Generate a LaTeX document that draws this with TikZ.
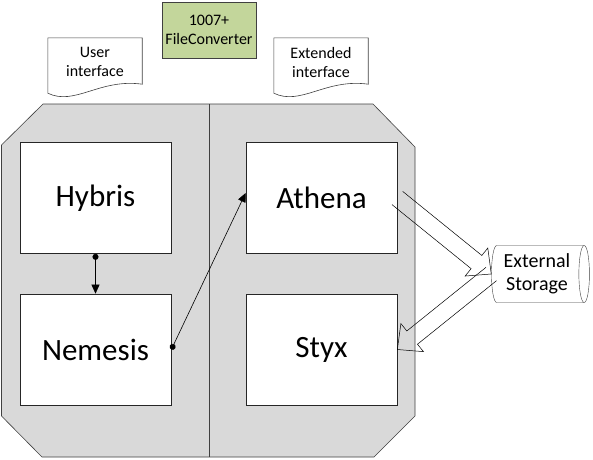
\documentclass[tikz,border=0pt]{standalone}
\usepackage{fontspec}
\setmainfont{Carlito}
\usepackage{tikz}
\usetikzlibrary{shapes,arrows,arrows.meta,positioning,calc}
\definecolor{panelgray}{RGB}{217,217,217}
\definecolor{edgegray}{RGB}{64,64,64}
\definecolor{convgreen}{RGB}{195,214,155}

% wavy bottom outline for a document node
\newcommand{\docoutline}[1]{%
  \draw[edgegray, line width=0.6pt] (#1.north west) -- (#1.north east)
    -- ($(#1.south east)+(0,-2)$)
    .. controls ($(#1.south west)+(52,-8)$) and ($(#1.south west)+(27,20)$) .. ($(#1.south west)+(0,7)$)
    -- cycle;}

% open block arrow between two points
\newcommand{\hollowarrow}[2]{%
  \coordinate (ha-s) at (#1);
  \coordinate (ha-e) at (#2);
  \coordinate (ha-b) at ($(ha-e)!19pt!(ha-s)$);
  \draw[line width=0.5pt] ($(ha-s)!8.5pt!90:(ha-e)$) -- ($(ha-b)!8.5pt!90:(ha-e)$)
    -- ($(ha-b)!18pt!90:(ha-e)$) -- (ha-e) -- ($(ha-b)!18pt!-90:(ha-e)$)
    -- ($(ha-b)!8.5pt!-90:(ha-e)$) -- ($(ha-s)!8.5pt!-90:(ha-e)$);}

\begin{document}
\begin{tikzpicture}[x=1pt, y=-1pt,
    module/.style={rectangle, draw=black!85, fill=white, line width=0.7pt,
                   minimum width=151, minimum height=111, font=\fontsize{31}{36}\selectfont},
    doc/.style={rectangle, fill=white, minimum width=94, minimum height=48,
                align=center, font=\fontsize{16}{19}\selectfont},
    link/.style={line width=0.6pt, {Circle[length=6pt]}-{Triangle[length=9pt, width=8pt]}}
]
\useasboundingbox (0,0) rectangle (593,459);

% Panel
\draw[edgegray, fill=panelgray, line width=0.6pt] (43,104) -- (373,104) -- (415,147) -- (415,416)
  -- (374,457) -- (42,457) -- (1.5,416) -- (1.5,145) -- cycle;
\draw[edgegray, line width=0.6pt] (209,104) -- (209,457);

% Modules
\node[module] (hybris) at (95.5,198) {Hybris};
\node[module] (nemesis) at (95.5,349.5) {Nemesis};
\node[module] (athena) at (321.5,198) {Athena};
\node[module] (styx) at (321.5,349.5) {Styx};

% Interfaces
\node[doc] (userif) at (95,62) {User\\interface};
\docoutline{userif}
\node[doc] (extif) at (321,62) {Extended\\interface};
\docoutline{extif}
\node[rectangle, draw=edgegray, fill=convgreen, minimum width=94, minimum height=56,
      align=center, font=\fontsize{16}{19}\selectfont] (conv) at (209,30) {1007+\\FileConverter};

\node[cylinder, draw=edgegray, fill=white, aspect=0.25, minimum width=57, minimum height=98,
      inner sep=1pt, align=center, font=\fontsize{20}{23}\selectfont] (storage) at (537,274) {External\\Storage};

% Links
\draw[link] (hybris.south) -- (nemesis.north);
\draw[link] (nemesis.east) -- ([yshift=5]athena.west);
\hollowarrow{athena.east}{storage.west}
\hollowarrow{storage.west}{styx.east}

\end{tikzpicture}
\end{document}
